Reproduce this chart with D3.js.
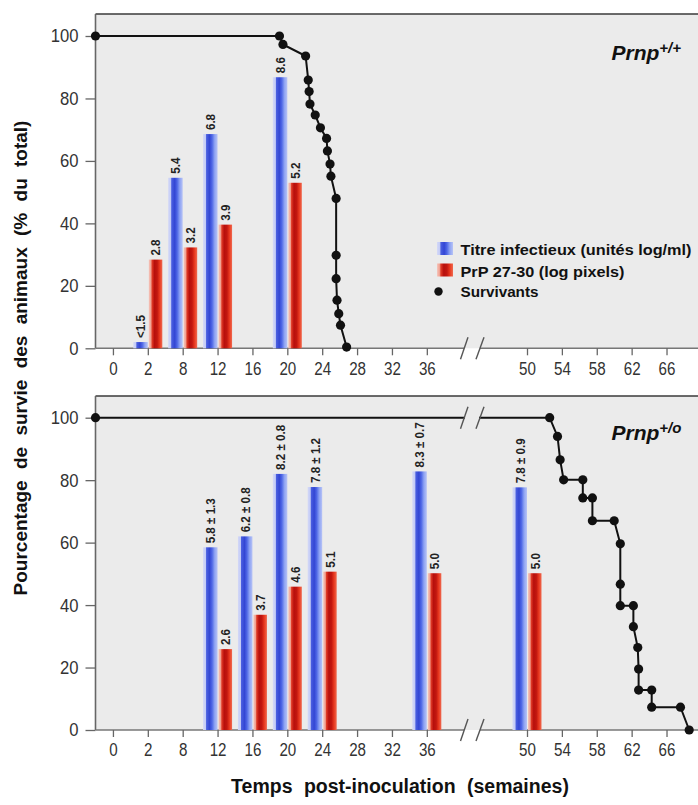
<!DOCTYPE html>
<html><head><meta charset="utf-8">
<script src="https://cdn.jsdelivr.net/npm/d3@7"></script>
<style>
html,body{margin:0;padding:0;background:#fff;}
svg{display:block;}
text{font-family:'Liberation Sans',Arial,sans-serif;}
</style></head>
<body>
<svg id="chart" width="698" height="805"></svg>
<script>
// ---- data ----
const tickWeeks  = [0,4,8,12,16,20,24,28,32,36,50,54,58,62,66];
const tickLabels = ["0","2","8","12","16","20","24","28","32","36","50","54","58","62","66"];
const yTicks = [0,20,40,60,80,100];

const topCats        = ["2","8","12","20"];
const topTitre       = [2, 54.6, 68.6, 86.8];
const topPrP         = [28.4, 32.3, 39.6, 53];
const topTitreLabels = ["<1.5","5.4","6.8","8.6"];
const topPrPLabels   = ["2.8","3.2","3.9","5.2"];

const botCats        = ["12","16","20","24","36","50"];
const botTitre       = [58.5, 62, 82, 77.8, 82.8, 77.7];
const botPrP         = [25.9, 36.9, 45.9, 50.7, 50.2, 50.2];
const botTitreLabels = ["5.8 ± 1.3","6.2 ± 0.8","8.2 ± 0.8","7.8 ± 1.2","8.3 ± 0.7","7.8 ± 0.9"];
const botPrPLabels   = ["2.6","3.7","4.6","5.1","5.0","5.0"];

const topSurvWeeks = [-2,19.1,19.5,22.1,22.4,22.5,22.6,23.2,23.8,24.5,24.6,24.9,25.0,25.6,25.6,25.6,25.7,25.9,26.1,26.8];
const topSurvPct   = [100,100,97.3,93.6,85.9,82.2,78.2,74.7,70.6,67.2,63.2,59.0,55.1,48.0,29.8,22.3,15.4,11.1,7.4,0.4];

const botSurvWeeks = [-2,52.6,53.5,53.8,54.2,56.4,56.4,57.5,57.5,60.0,60.7,60.7,60.7,62.2,62.2,62.7,62.8,62.8,64.3,64.3,67.6,68.6];
const botSurvPct   = [100,100,94,86.5,80.1,80.1,74.3,74.3,67,67,59.6,46.7,39.8,39.8,33.1,26.4,19.5,12.8,12.8,7.3,7.3,0];

const legendLabels = ["Titre infectieux (unités log/ml)","PrP 27-30 (log pixels)","Survivants"];

// ---- layout ----
const svg = d3.select("#chart");
const plotLeft = 95.5, plotRight = 700;
const x = d3.scaleLinear().domain([-2,40,50,70]).range([95.5,461.7,527,701.4]);
const labelToWeek = new Map(tickLabels.map((l,i)=>[l,tickWeeks[i]]));
const BG = "#ebebeb";

const defs = svg.append("defs");
function grad(id, stops){
  const g = defs.append("linearGradient").attr("id",id).attr("x1","0").attr("x2","1").attr("y1","0").attr("y2","0");
  stops.forEach(s=>g.append("stop").attr("offset",s[0]).attr("stop-color",s[1]));
}
grad("gBlue",[["0%","#d3d8f7"],["18%","#c3cbf6"],["24%","#4a5fe0"],["45%","#3346d4"],["62%","#4f68e6"],["80%","#8ea3f3"],["100%","#b7c3f6"]]);
grad("gRed",[["0%","#f5c6bd"],["16%","#f0a090"],["24%","#e03a26"],["42%","#b70f0c"],["62%","#c2170f"],["80%","#e8381f"],["100%","#ef6a50"]]);

function panel(cfg){
  const {top, y0, y100, cats, titre, prp, titreLabels, prpLabels, survW, survP, genoSup} = cfg;
  const y = d3.scaleLinear().domain([0,100]).range([y0,y100]);
  const g = svg.append("g");
  // background + frame
  g.append("rect").attr("x",plotLeft).attr("y",top).attr("width",plotRight-plotLeft).attr("height",y0-top)
    .attr("fill",BG);
  g.append("line").attr("x1",plotLeft).attr("x2",plotRight).attr("y1",top).attr("y2",top)
    .attr("stroke","#3a3a3a").attr("stroke-width",1.6);
  g.append("line").attr("x1",plotLeft).attr("x2",plotLeft).attr("y1",top).attr("y2",y0)
    .attr("stroke","#666").attr("stroke-width",1.6);
  // bottom axis line with break
  g.append("line").attr("x1",plotLeft).attr("x2",464).attr("y1",y0).attr("y2",y0).attr("stroke","#777").attr("stroke-width",1.4);
  g.append("line").attr("x1",480).attr("x2",plotRight).attr("y1",y0).attr("y2",y0).attr("stroke","#777").attr("stroke-width",1.4);

  // y axis
  const ya = g.append("g").attr("transform",`translate(${plotLeft},0)`)
    .call(d3.axisLeft(y).tickValues(yTicks).tickSize(10).tickPadding(7));
  ya.select(".domain").remove();
  ya.selectAll(".tick line").attr("stroke","#666").attr("stroke-width",1.3);
  ya.selectAll(".tick text").attr("font-size","18.5px").attr("fill","#333")
    .attr("x",-17/0.9).attr("transform","scale(0.9,1)").style("font-family","'Liberation Sans',Arial,sans-serif");

  // x axis
  const xa = g.append("g").attr("transform",`translate(0,${y0})`)
    .call(d3.axisBottom(x).tickValues(tickWeeks).tickFormat((d,i)=>tickLabels[i]).tickSize(7).tickPadding(6));
  xa.select(".domain").remove();
  xa.selectAll(".tick line").attr("stroke","#666").attr("stroke-width",1.3);
  xa.selectAll(".tick text").attr("font-size","18.5px").attr("fill","#333").attr("dy","0.72em")
    .attr("transform","scale(0.82,1)").style("font-family","'Liberation Sans',Arial,sans-serif");

  // bars
  const bw = 14.5;
  const bars = g.append("g");
  cats.forEach((c,i)=>{
    const cx = x(labelToWeek.get(c));
    bars.append("rect").attr("x",cx-bw).attr("width",bw).attr("y",y(titre[i])).attr("height",y0-y(titre[i])).attr("fill","url(#gBlue)");
    bars.append("rect").attr("x",cx+1).attr("width",bw-1).attr("y",y(prp[i])).attr("height",y0-y(prp[i])).attr("fill","url(#gRed)");
    const lab = (tx,ty,t)=>bars.append("text").attr("transform",`translate(${tx},${ty}) rotate(-90) scale(0.86,1)`)
      .attr("dy","0.36em").attr("font-size","13.5px").attr("font-weight","bold").attr("fill","#222").text(t);
    lab(cx-bw/2, y(titre[i])-4, titreLabels[i]);
    lab(cx+1+(bw-1)/2, y(prp[i])-4, prpLabels[i]);
  });

  // survival line
  const line = d3.line().x((d,i)=>x(survW[i])).y((d,i)=>y(survP[i]));
  g.append("path").datum(survW).attr("d",line).attr("fill","none").attr("stroke","#111").attr("stroke-width",2);
  g.selectAll(null).data(survW).enter().append("circle")
    .attr("cx",(d,i)=>x(survW[i])).attr("cy",(d,i)=>y(survP[i])).attr("r",4.6).attr("fill","#111");

  // breaks
  const brk = (yy, cover)=>{
    if(cover) g.append("rect").attr("x",465).attr("y",yy-2.5).attr("width",14).attr("height",5).attr("fill",BG);
    g.append("line").attr("x1",460.5).attr("y1",yy+11).attr("x2",468).attr("y2",yy-11).attr("stroke","#555").attr("stroke-width",1.4);
    g.append("line").attr("x1",476).attr("y1",yy+11).attr("x2",484).attr("y2",yy-11).attr("stroke","#555").attr("stroke-width",1.4);
  };
  brk(y0,false);
  if(cfg.breakLine) brk(y(100),true);

  // genotype label
  const t = g.append("text").attr("x",611.5).attr("y",cfg.genoY).attr("font-size","21px").attr("font-weight","bold")
    .attr("font-style","italic").attr("fill","#111");
  t.append("tspan").text("Prnp");
  t.append("tspan").attr("dy","-7").attr("font-size","15px").text(genoSup);
  return y;
}

panel({top:14, y0:348.3, y100:36, cats:topCats, titre:topTitre, prp:topPrP, titreLabels:topTitreLabels, prpLabels:topPrPLabels,
  survW:topSurvWeeks, survP:topSurvPct, genoSup:"+/+", genoY:59.5, breakLine:false});
panel({top:396, y0:730, y100:417.7, cats:botCats, titre:botTitre, prp:botPrP, titreLabels:botTitreLabels, prpLabels:botPrPLabels,
  survW:botSurvWeeks, survP:botSurvPct, genoSup:"+/o", genoY:440, breakLine:true});

// legend
const lg = svg.append("g");
const lgY = [255, 276.5, 296.5];
const lgW = [231, 164, 78];
lg.append("rect").attr("x",437).attr("y",lgY[0]-13).attr("width",16).attr("height",13).attr("fill","url(#gBlue)");
lg.append("rect").attr("x",437).attr("y",lgY[1]-13).attr("width",16).attr("height",13).attr("fill","url(#gRed)");
lg.append("circle").attr("cx",438.5).attr("cy",lgY[2]-5).attr("r",4.2).attr("fill","#111");
legendLabels.forEach((l,i)=>{
  lg.append("text").attr("x",460.5).attr("y",lgY[i]).attr("font-size","15.5px").attr("font-weight","bold")
    .attr("fill","#111")
    .attr("textLength",lgW[i]).attr("lengthAdjust","spacingAndGlyphs").text(l);
});

// axis titles
svg.append("text").attr("transform","translate(27,358) rotate(-90)").attr("text-anchor","middle")
  .attr("font-size","19px").attr("font-weight","bold").attr("fill","#111").attr("word-spacing","6px")
  .text("Pourcentage de survie des animaux (% du total)");
svg.append("text").attr("x",400).attr("y",793).attr("text-anchor","middle")
  .attr("font-size","19.5px").attr("font-weight","bold").attr("fill","#111").attr("word-spacing","6px")
  .text("Temps post-inoculation (semaines)");
</script>
</body></html>
